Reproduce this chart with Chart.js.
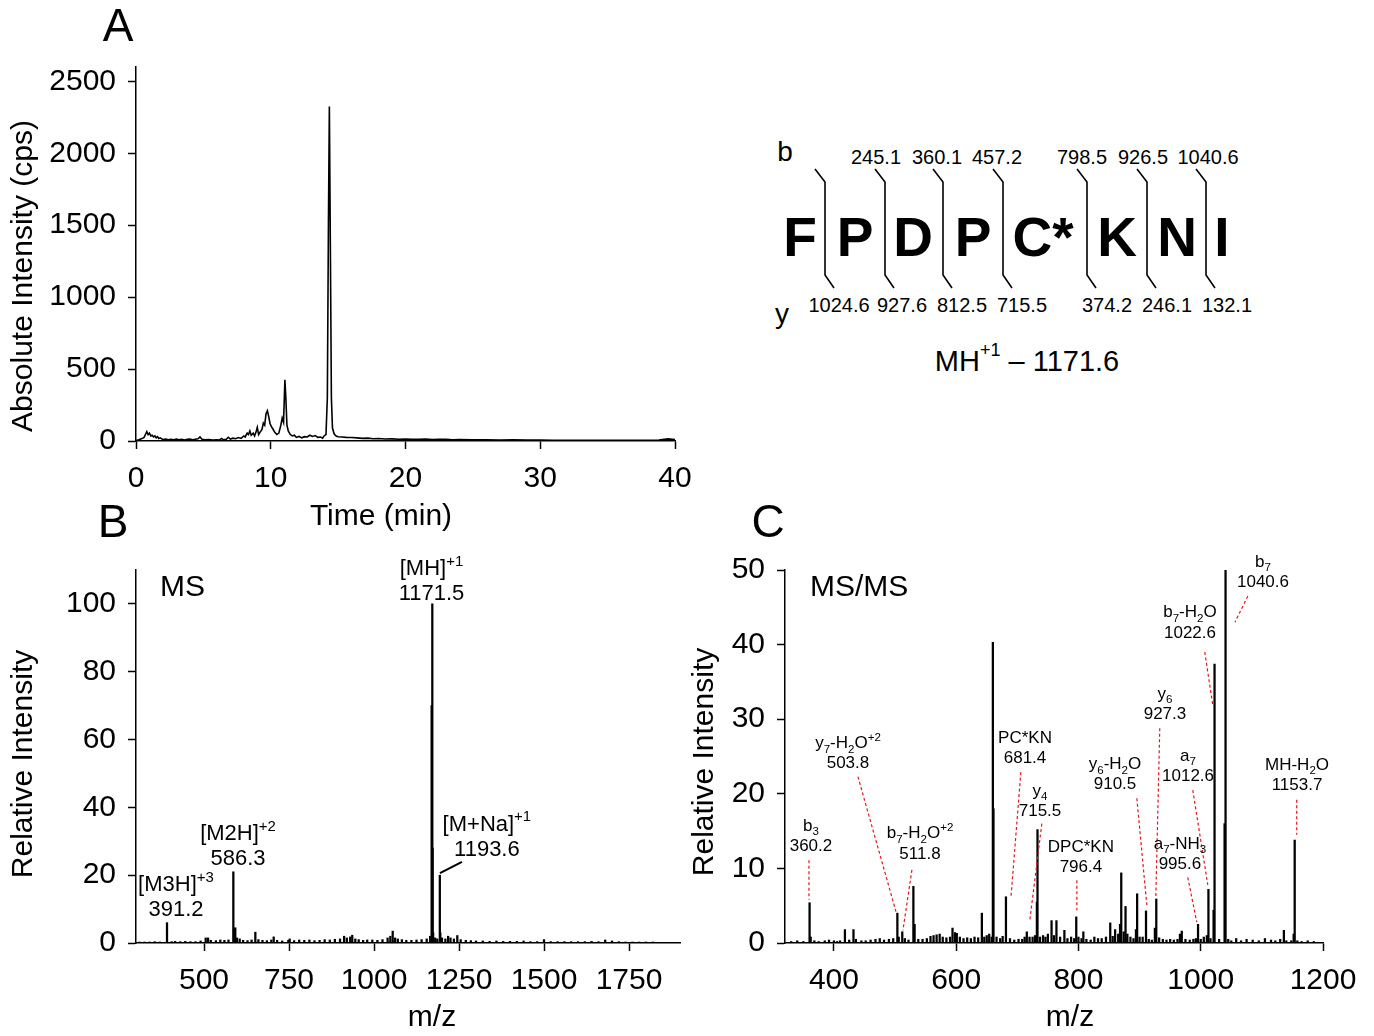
<!DOCTYPE html>
<html>
<head>
<meta charset="utf-8">
<script src="https://cdn.jsdelivr.net/npm/chart.js@4.4.1/dist/chart.umd.min.js"></script>
<style>
  body { margin: 0; background: #fff; width: 1374px; height: 1036px; position: relative; overflow: hidden;
         font-family: "Liberation Sans", Arial, sans-serif; color: #000; }
  canvas { position: absolute; }
  .panel { position: absolute; font-size: 46px; line-height: 1; transform: translate(-50%, -50%); }
  #pep { position: absolute; left: 760px; top: 120px; }
</style>
</head>
<body>
<canvas id="chartA" width="710" height="540" style="left:0;top:0"></canvas>
<canvas id="chartB" width="700" height="496" style="left:0;top:540px"></canvas>
<canvas id="chartC" width="694" height="496" style="left:680px;top:540px"></canvas>
<svg id="pep" width="520" height="270" xmlns="http://www.w3.org/2000/svg"></svg>
<div class="panel" style="left:118px;top:25px">A</div>
<div class="panel" style="left:113px;top:521px">B</div>
<div class="panel" style="left:768px;top:521px">C</div>

<script>
// ---- panel A: total ion chromatogram ----
const timeMin = [0.0, 0.2, 0.4, 0.6, 0.7, 0.8, 0.9, 1.0, 1.1, 1.2, 1.3, 1.4, 1.5, 1.6, 1.7, 1.8, 2.0, 2.2, 2.4, 2.6,
  2.8, 3.0, 3.2, 3.4, 3.6, 3.8, 4.0, 4.2, 4.4, 4.6, 4.75, 4.9, 5.1, 5.4, 5.7, 6.0, 6.2, 6.35, 6.5, 6.7,
  6.85, 7.0, 7.2, 7.4, 7.6, 7.8, 8.0, 8.1, 8.25, 8.35, 8.45, 8.55, 8.7, 8.8, 8.9, 9.0, 9.1, 9.2, 9.35, 9.45,
  9.55, 9.65, 9.75, 9.85, 9.95, 10.05, 10.15, 10.3, 10.45, 10.6, 10.75, 10.85, 10.95, 11.05, 11.12, 11.2, 11.3, 11.45, 11.6, 11.75,
  11.9, 12.1, 12.3, 12.5, 12.7, 12.9, 13.1, 13.3, 13.5, 13.7, 13.85, 13.95, 14.1, 14.2, 14.28, 14.35, 14.42, 14.5, 14.58, 14.7,
  14.85, 15.0, 15.3, 15.6, 16.0, 16.4, 16.8, 17.2, 17.6, 18.0, 18.5, 19.0, 19.5, 20.0, 20.5, 21.0, 21.5, 22.0, 22.5, 23.0,
  23.5, 24.0, 25.0, 26.0, 27.0, 28.0, 29.0, 30.0, 31.0, 32.0, 33.0, 34.0, 35.0, 36.0, 37.0, 38.0, 38.8, 39.2, 39.5, 39.8, 40.0];
const absIntensity = [3, 8, 15, 25, 45, 65, 45, 55, 35, 40, 28, 35, 22, 30, 18, 22, 10, 14, 8, 12,
  9, 13, 8, 11, 7, 12, 14, 9, 12, 15, 28, 12, 8, 10, 6, 9, 7, 18, 8, 12,
  26, 14, 20, 16, 24, 18, 35, 28, 55, 45, 70, 40, 55, 35, 60, 95, 45, 60, 80, 125,
  110, 190, 210, 170, 120, 100, 85, 60, 45, 55, 110, 160, 130, 425, 300, 110, 70, 45, 35, 40,
  25, 32, 22, 30, 28, 40, 32, 38, 25, 28, 20, 35, 45, 300, 1500, 2325, 1400, 300, 90, 50,
  35, 30, 28, 25, 24, 22, 18, 20, 16, 17, 14, 15, 12, 13, 11, 12, 14, 10, 11, 12,
  9, 10, 8, 9, 7, 8, 6, 6, 5, 5, 4, 5, 4, 4, 4, 4, 6, 12, 15, 12, 10];
const timeTicks = [0, 10, 20, 30, 40];
const intensityTicks = [0, 500, 1000, 1500, 2000, 2500];

// ---- panel B: MS spectrum ----
const msMz = [310, 325, 340, 355, 370, 391.2, 405, 415, 430, 445, 460, 475, 490, 505, 512, 520, 535, 548, 560, 572,
  586.3, 588, 592, 597, 605, 615, 628, 640, 651, 660, 672, 685, 698, 705, 715, 730, 748, 752, 765, 780,
  795, 810, 825, 840, 855, 870, 885, 900, 912, 920, 930, 936, 945, 955, 968, 980, 995, 1010, 1025, 1040,
  1048, 1055, 1062, 1070, 1082, 1095, 1110, 1125, 1140, 1155, 1165, 1169.5, 1171.5, 1172.5, 1174, 1180, 1186, 1193.6, 1195, 1200,
  1210, 1218, 1225, 1235, 1245, 1255, 1270, 1285, 1300, 1320, 1340, 1360, 1380, 1400, 1420, 1440, 1460, 1480, 1500, 1520,
  1540, 1560, 1580, 1600, 1620, 1640, 1660, 1680, 1700, 1720, 1740, 1760, 1780, 1800, 1820];
const msInt = [0.3, 0.3, 0.3, 0.4, 0.3, 6.0, 0.4, 0.5, 0.4, 0.5, 0.4, 0.4, 0.6, 1.5, 1.5, 0.8, 0.7, 0.9, 0.8, 0.9,
  21, 4, 4.5, 1.5, 1.2, 0.8, 0.7, 0.9, 3.2, 1.0, 0.8, 0.7, 0.9, 1.8, 0.8, 0.6, 0.8, 1.2, 0.7, 0.9,
  0.8, 0.9, 0.7, 0.8, 1.0, 0.9, 1.1, 1.2, 2.0, 1.5, 1.8, 2.3, 1.2, 1.0, 0.8, 0.9, 0.9, 0.8, 1.0, 1.5,
  2.0, 3.5, 1.5, 1.2, 1.0, 0.8, 0.8, 0.9, 1.0, 1.2, 2.0, 70, 100, 28, 3, 1.5, 1.2, 20, 3, 1.5,
  1.2, 2.0, 1.5, 1.2, 2.2, 1.0, 0.8, 0.7, 0.6, 0.6, 0.5, 0.6, 0.5, 0.5, 0.5, 0.6, 0.4, 0.4, 1.0, 0.4,
  0.4, 0.4, 0.4, 0.4, 0.4, 0.5, 0.4, 0.9, 0.6, 0.4, 0.3, 0.3, 0.3, 0.3, 0.3];
const msTicks = [500, 750, 1000, 1250, 1500, 1750];
const relTicksB = [0, 20, 40, 60, 80, 100];

// ---- panel C: MS/MS spectrum ----
const msmsMz = [330, 340, 350, 360.2, 362, 368, 375, 385, 392, 400, 405, 410, 418, 425, 432, 436, 445, 452, 460, 468,
  475, 482, 490, 497, 503.8, 506, 511.8, 516, 522, 530, 532, 538, 545, 552, 558, 563, 568, 573, 578, 584,
  590, 594, 598, 601, 606, 612, 618, 624, 630, 636, 642, 646, 650, 654, 658, 660, 661, 666, 672, 676,
  681.4, 688, 695, 702, 708, 712, 715.5, 720, 725, 729, 732, 733, 737, 742, 746, 750, 756, 760, 764, 770,
  777, 782, 788, 793, 796.4, 800, 805, 808, 813, 820, 826, 832, 838, 845, 852, 856, 860, 865, 868, 870,
  874, 877, 880, 885, 890, 894, 896, 900, 905, 910.5, 915, 920, 925, 927.3, 932, 938, 944, 950, 956, 962,
  966, 969, 975, 982, 988, 992, 995.6, 1000, 1005, 1010, 1012.6, 1016, 1021, 1022.6, 1030, 1039, 1040.6, 1045, 1050, 1058,
  1066, 1075, 1085, 1095, 1105, 1115, 1122, 1130, 1136, 1140, 1148, 1152, 1153.7, 1158, 1165, 1175, 1185];
const msmsInt = [0.2, 0.3, 0.2, 5.4, 0.8, 0.3, 0.2, 0.3, 0.4, 0.3, 0.2, 0.3, 1.8, 0.4, 1.8, 0.5, 0.3, 0.3, 0.4, 0.5,
  0.6, 0.4, 0.5, 0.6, 4.0, 0.8, 1.5, 0.6, 0.4, 7.6, 2.5, 0.5, 0.5, 0.6, 0.9, 1.0, 1.1, 1.2, 0.8, 0.7,
  0.8, 2.0, 1.4, 1.3, 0.8, 0.6, 0.7, 0.6, 0.8, 0.7, 4.0, 0.8, 1.0, 1.2, 0.8, 40.3, 18, 0.8, 0.6, 0.9,
  6.2, 0.6, 0.4, 0.5, 0.5, 0.8, 1.5, 0.8, 0.8, 1.0, 5.5, 15.2, 0.8, 1.0, 0.8, 1.2, 3.0, 1.0, 3.0, 0.8,
  1.7, 0.6, 0.8, 0.6, 3.5, 0.8, 0.6, 1.5, 0.5, 0.4, 0.8, 0.6, 0.6, 0.8, 2.7, 0.9, 1.8, 1.2, 2.5, 9.4,
  1.5, 4.9, 1.2, 0.8, 0.6, 1.8, 6.6, 0.8, 0.8, 4.3, 0.5, 0.4, 2.0, 5.9, 0.7, 0.5, 0.4, 0.5, 0.4, 0.5,
  1.2, 1.6, 0.5, 0.4, 0.5, 0.6, 2.5, 0.5, 0.8, 1.0, 7.2, 0.6, 4.4, 37.4, 0.5, 16, 50, 0.5, 0.3, 0.6,
  0.3, 0.5, 0.4, 0.3, 0.6, 0.4, 0.3, 0.5, 1.7, 0.3, 0.3, 1.2, 13.8, 0.3, 0.2, 0.3, 0.2];
const msmsTicks = [400, 600, 800, 1000, 1200];
const relTicksC = [0, 10, 20, 30, 40, 50];

// ---- peptide fragment map ----
const residues = ['F', 'P', 'D', 'P', 'C*', 'K', 'N', 'I'];
const bIons = ['245.1', '360.1', '457.2', '798.5', '926.5', '1040.6'];
const yIons = ['1024.6', '927.6', '812.5', '715.5', '374.2', '246.1', '132.1'];
const precursor = '1171.6';

// annotation labels (text + anchor in data units, leader line from/to in data units)
const msLabels = [
  { lines: ['[MH]^{+1}', '1171.5'], x: 1169, y: 107.2 },
  { lines: ['[M2H]^{+2}', '586.3'], x: 600, y: 28.9 },
  { lines: ['[M3H]^{+3}', '391.2'], x: 417.6, y: 13.9 },
  { lines: ['[M+Na]^{+1}', '1193.6'], x: 1332, y: 31.8, lead: [1258.8, 23.9, 1194, 20.6] },
  { lines: ['MS'], x: 370.6, y: 105.6, size: 30, align: 'left' }
];
const msmsLabels = [
  { lines: ['b_{7}', '1040.6'], x: 1101.8, y: 49.9, lead: [1077, 46.5, 1056, 43.0] },
  { lines: ['b_{7}-H_{2}O', '1022.6'], x: 982.4, y: 43.1, lead: [1006.6, 39.0, 1019.7, 31.9] },
  { lines: ['y_{6}', '927.3'], x: 941.5, y: 32.2, lead: [933, 28.8, 926.5, 6.0] },
  { lines: ['a_{7}', '1012.6'], x: 979.2, y: 23.9, lead: [987, 20.5, 1011.5, 7.8] },
  { lines: ['MH-H_{2}O', '1153.7'], x: 1157.5, y: 22.7, lead: [1157, 19.2, 1157, 14.5] },
  { lines: ['y_{6}-H_{2}O', '910.5'], x: 859.8, y: 22.8, lead: [895.5, 19.4, 911.8, 5.1] },
  { lines: ['a_{7}-NH_{3}', '995.6'], x: 966, y: 12.1, lead: [978.8, 8.8, 993.5, 2.8] },
  { lines: ['PC*KN', '681.4'], x: 712.6, y: 26.3, lead: [705.8, 22.9, 689.5, 6.0] },
  { lines: ['y_{4}', '715.5'], x: 737.1, y: 19.2, lead: [740.1, 16.0, 720.5, 3.1] },
  { lines: ['DPC*KN', '796.4'], x: 804, y: 11.7, lead: [797.4, 8.4, 797.4, 4.4] },
  { lines: ['y_{7}-H_{2}O^{+2}', '503.8'], x: 423, y: 25.6, lead: [439.3, 22.3, 501.5, 4.2] },
  { lines: ['b_{7}-H_{2}O^{+2}', '511.8'], x: 540.8, y: 13.5, lead: [527.6, 9.8, 512.9, 1.7] },
  { lines: ['b_{3}', '360.2'], x: 362.5, y: 14.5, lead: [359.2, 11.1, 359.2, 5.8] },
  { lines: ['MS/MS'], x: 360.9, y: 48.0, size: 30, align: 'left' }
];

const FONT = '"Liberation Sans", Arial, sans-serif';
Chart.defaults.font.family = FONT;
Chart.defaults.color = '#000';

// text with _{sub} and ^{sup} parts
function drawRich(ctx, str, cx, cy, size, align) {
  const parts = [];
  const re = /([_^])\{([^}]*)\}/g;
  let last = 0, m;
  while ((m = re.exec(str)) !== null) {
    if (m.index > last) parts.push({ t: str.slice(last, m.index), k: '' });
    parts.push({ t: m[2], k: m[1] });
    last = re.lastIndex;
  }
  if (last < str.length) parts.push({ t: str.slice(last), k: '' });
  let total = 0;
  parts.forEach(p => {
    p.s = p.k ? size * 0.68 : size;
    ctx.font = p.s + 'px ' + FONT;
    p.w = ctx.measureText(p.t).width;
    total += p.w;
  });
  let px = align === 'left' ? cx : cx - total / 2;
  const base = cy + size * 0.36;
  ctx.fillStyle = '#000';
  ctx.textAlign = 'left';
  ctx.textBaseline = 'alphabetic';
  parts.forEach(p => {
    ctx.font = p.s + 'px ' + FONT;
    const dy = p.k === '_' ? size * 0.28 : p.k === '^' ? -size * 0.42 : 0;
    ctx.fillText(p.t, px, base + dy);
    px += p.w;
  });
}

const annotPlugin = {
  id: 'annot',
  afterDatasetsDraw(chart, args, opts) {
    const { ctx } = chart;
    const xs = chart.scales.x, ys = chart.scales.y;
    ctx.save();
    (opts.items || []).forEach(it => {
      if (it.lead) {
        ctx.beginPath();
        ctx.strokeStyle = opts.leadColor;
        ctx.lineWidth = opts.leadWidth;
        ctx.setLineDash(opts.dash || []);
        ctx.moveTo(xs.getPixelForValue(it.lead[0]), ys.getPixelForValue(it.lead[1]));
        ctx.lineTo(xs.getPixelForValue(it.lead[2]), ys.getPixelForValue(it.lead[3]));
        ctx.stroke();
        ctx.setLineDash([]);
      }
      const cx = xs.getPixelForValue(it.x), cy = ys.getPixelForValue(it.y);
      const n = it.lines.length;
      it.lines.forEach((ln, i) => {
        drawRich(ctx, ln, cx, cy + (i - (n - 1) / 2) * opts.lineGap, it.size || opts.size, it.align);
      });
    });
    ctx.restore();
  }
};

// axis titles placed where the figure has them (canvas pixels)
const titlePlugin = {
  id: 'axisTitles',
  afterDraw(chart, args, opts) {
    const { ctx } = chart;
    ctx.save();
    ctx.font = '30px ' + FONT;
    ctx.fillStyle = '#000';
    ctx.textAlign = 'center';
    ctx.textBaseline = 'middle';
    (opts.items || []).forEach(t => {
      ctx.save();
      ctx.translate(t.cx, t.cy);
      if (t.rot) ctx.rotate(t.rot);
      ctx.fillText(t.text, 0, 0);
      ctx.restore();
    });
    ctx.restore();
  }
};

function axis(opts) {
  const keep = opts.tickList;
  return {
    type: 'linear',
    min: opts.min,
    max: opts.max,
    offset: false,
    ticks: { stepSize: opts.step, padding: 12, font: { size: 30 }, color: '#000', autoSkip: false, maxRotation: 0,
             callback: v => String(v) },
    afterBuildTicks: s => { s.ticks = keep.map(v => ({ value: v })); },
    afterFit: s => { if (opts.width) s.width = opts.width; if (opts.height) s.height = opts.height; },
    grid: { display: true, drawOnChartArea: false, drawTicks: true, tickLength: 8, tickWidth: 1.5, color: '#000', offset: false },
    border: { display: true, color: '#000', width: 1.5 },
    title: { display: false }
  };
}

function baseOptions(pad, xAx, yAx, plugins) {
  return {
    responsive: false,
    animation: false,
    layout: { padding: pad },
    plugins: Object.assign({ legend: { display: false }, tooltip: { enabled: false } }, plugins || {}),
    scales: { x: xAx, y: yAx }
  };
}

const UP = -Math.PI / 2;

// panel A
new Chart(document.getElementById('chartA'), {
  type: 'line',
  data: {
    datasets: [{
      data: timeMin.map((t, i) => ({ x: t, y: absIntensity[i] })),
      borderColor: '#000', borderWidth: 1.6, pointRadius: 0, tension: 0, fill: false
    }]
  },
  options: baseOptions({ left: 0, top: 67, right: 35, bottom: 0 },
    axis({ min: 0, max: 40, step: 10, tickList: timeTicks, height: 99 }),
    axis({ min: 0, max: 2600, step: 500, tickList: intensityTicks, width: 136 }),
    { axisTitles: { items: [
      { text: 'Time (min)', cx: 381, cy: 517 },
      { text: 'Absolute Intensity (cps)', cx: 24, cy: 276, rot: UP }
    ] } }),
  plugins: [titlePlugin]
});

function stickChart(id, mz, inten, xOpts, yOpts, pad, labels, labelOpts, titles) {
  return new Chart(document.getElementById(id), {
    type: 'bar',
    data: {
      datasets: [{
        data: mz.map((m, i) => ({ x: m, y: inten[i] })),
        backgroundColor: '#000', borderWidth: 0, barThickness: 1.6, grouped: false
      }]
    },
    options: baseOptions(pad, axis(xOpts), axis(yOpts), {
      annot: Object.assign({ items: labels }, labelOpts),
      axisTitles: { items: titles }
    }),
    plugins: [annotPlugin, titlePlugin]
  });
}

// panel B
stickChart('chartB', msMz, msInt,
  { min: 300, max: 1900, step: 250, tickList: msTicks, height: 93 },
  { min: 0, max: 110, step: 20, tickList: relTicksB, width: 136 },
  { left: 0, top: 30, right: 20, bottom: 0 },
  msLabels, { size: 22, lineGap: 25, leadColor: '#000', leadWidth: 2 },
  [{ text: 'm/z', cx: 432, cy: 478 }, { text: 'Relative Intensity', cx: 24, cy: 224, rot: UP }]);

// panel C
stickChart('chartC', msmsMz, msmsInt,
  { min: 320, max: 1200, step: 200, tickList: msmsTicks, height: 93 },
  { min: 0, max: 50, step: 10, tickList: relTicksC, width: 105 },
  { left: 0, top: 30, right: 51, bottom: 0 },
  msmsLabels, { size: 17, lineGap: 20.5, leadColor: '#e8141c', leadWidth: 1.2, dash: [3, 2.5] },
  [{ text: 'm/z', cx: 390, cy: 478 }, { text: 'Relative Intensity', cx: 25, cy: 222, rot: UP }]);

// peptide fragmentation diagram
(function () {
  const svg = document.getElementById('pep');
  const NS = 'http://www.w3.org/2000/svg';
  const residueX = [40, 95, 153, 213, 283, 357, 417, 462];
  const cutX = [65, 125, 183, 243, 327, 387, 446];
  const bX = [116, 177, 237, 322, 383, 448];
  const yX = [79, 142, 202, 262, 347, 407, 467];
  function text(str, x, y, size, weight) {
    const t = document.createElementNS(NS, 'text');
    t.setAttribute('x', x); t.setAttribute('y', y);
    t.setAttribute('font-family', FONT); t.setAttribute('font-size', size);
    if (weight) t.setAttribute('font-weight', weight);
    t.setAttribute('text-anchor', 'middle');
    t.setAttribute('dominant-baseline', 'central');
    t.textContent = str;
    svg.appendChild(t);
    return t;
  }
  text('b', 25, 31, 28);
  text('y', 22, 193, 28);
  residues.forEach((r, i) => text(r, residueX[i], 117, 55, 'bold'));
  bIons.forEach((v, i) => text(v, bX[i], 37, 20));
  yIons.forEach((v, i) => text(v, yX[i], 185, 20));
  cutX.forEach(x => {
    const p = document.createElementNS(NS, 'polyline');
    p.setAttribute('points', `${x - 10},49 ${x},62 ${x},155 ${x + 9},168`);
    p.setAttribute('fill', 'none'); p.setAttribute('stroke', '#000'); p.setAttribute('stroke-width', '1.6');
    svg.appendChild(p);
  });
  const mh = text('MH', 267, 241, 29);
  mh.innerHTML = 'MH<tspan font-size="18" dy="-11">+1</tspan><tspan dy="11"> \u2013 ' + precursor + '</tspan>';
})();
</script>
</body>
</html>
